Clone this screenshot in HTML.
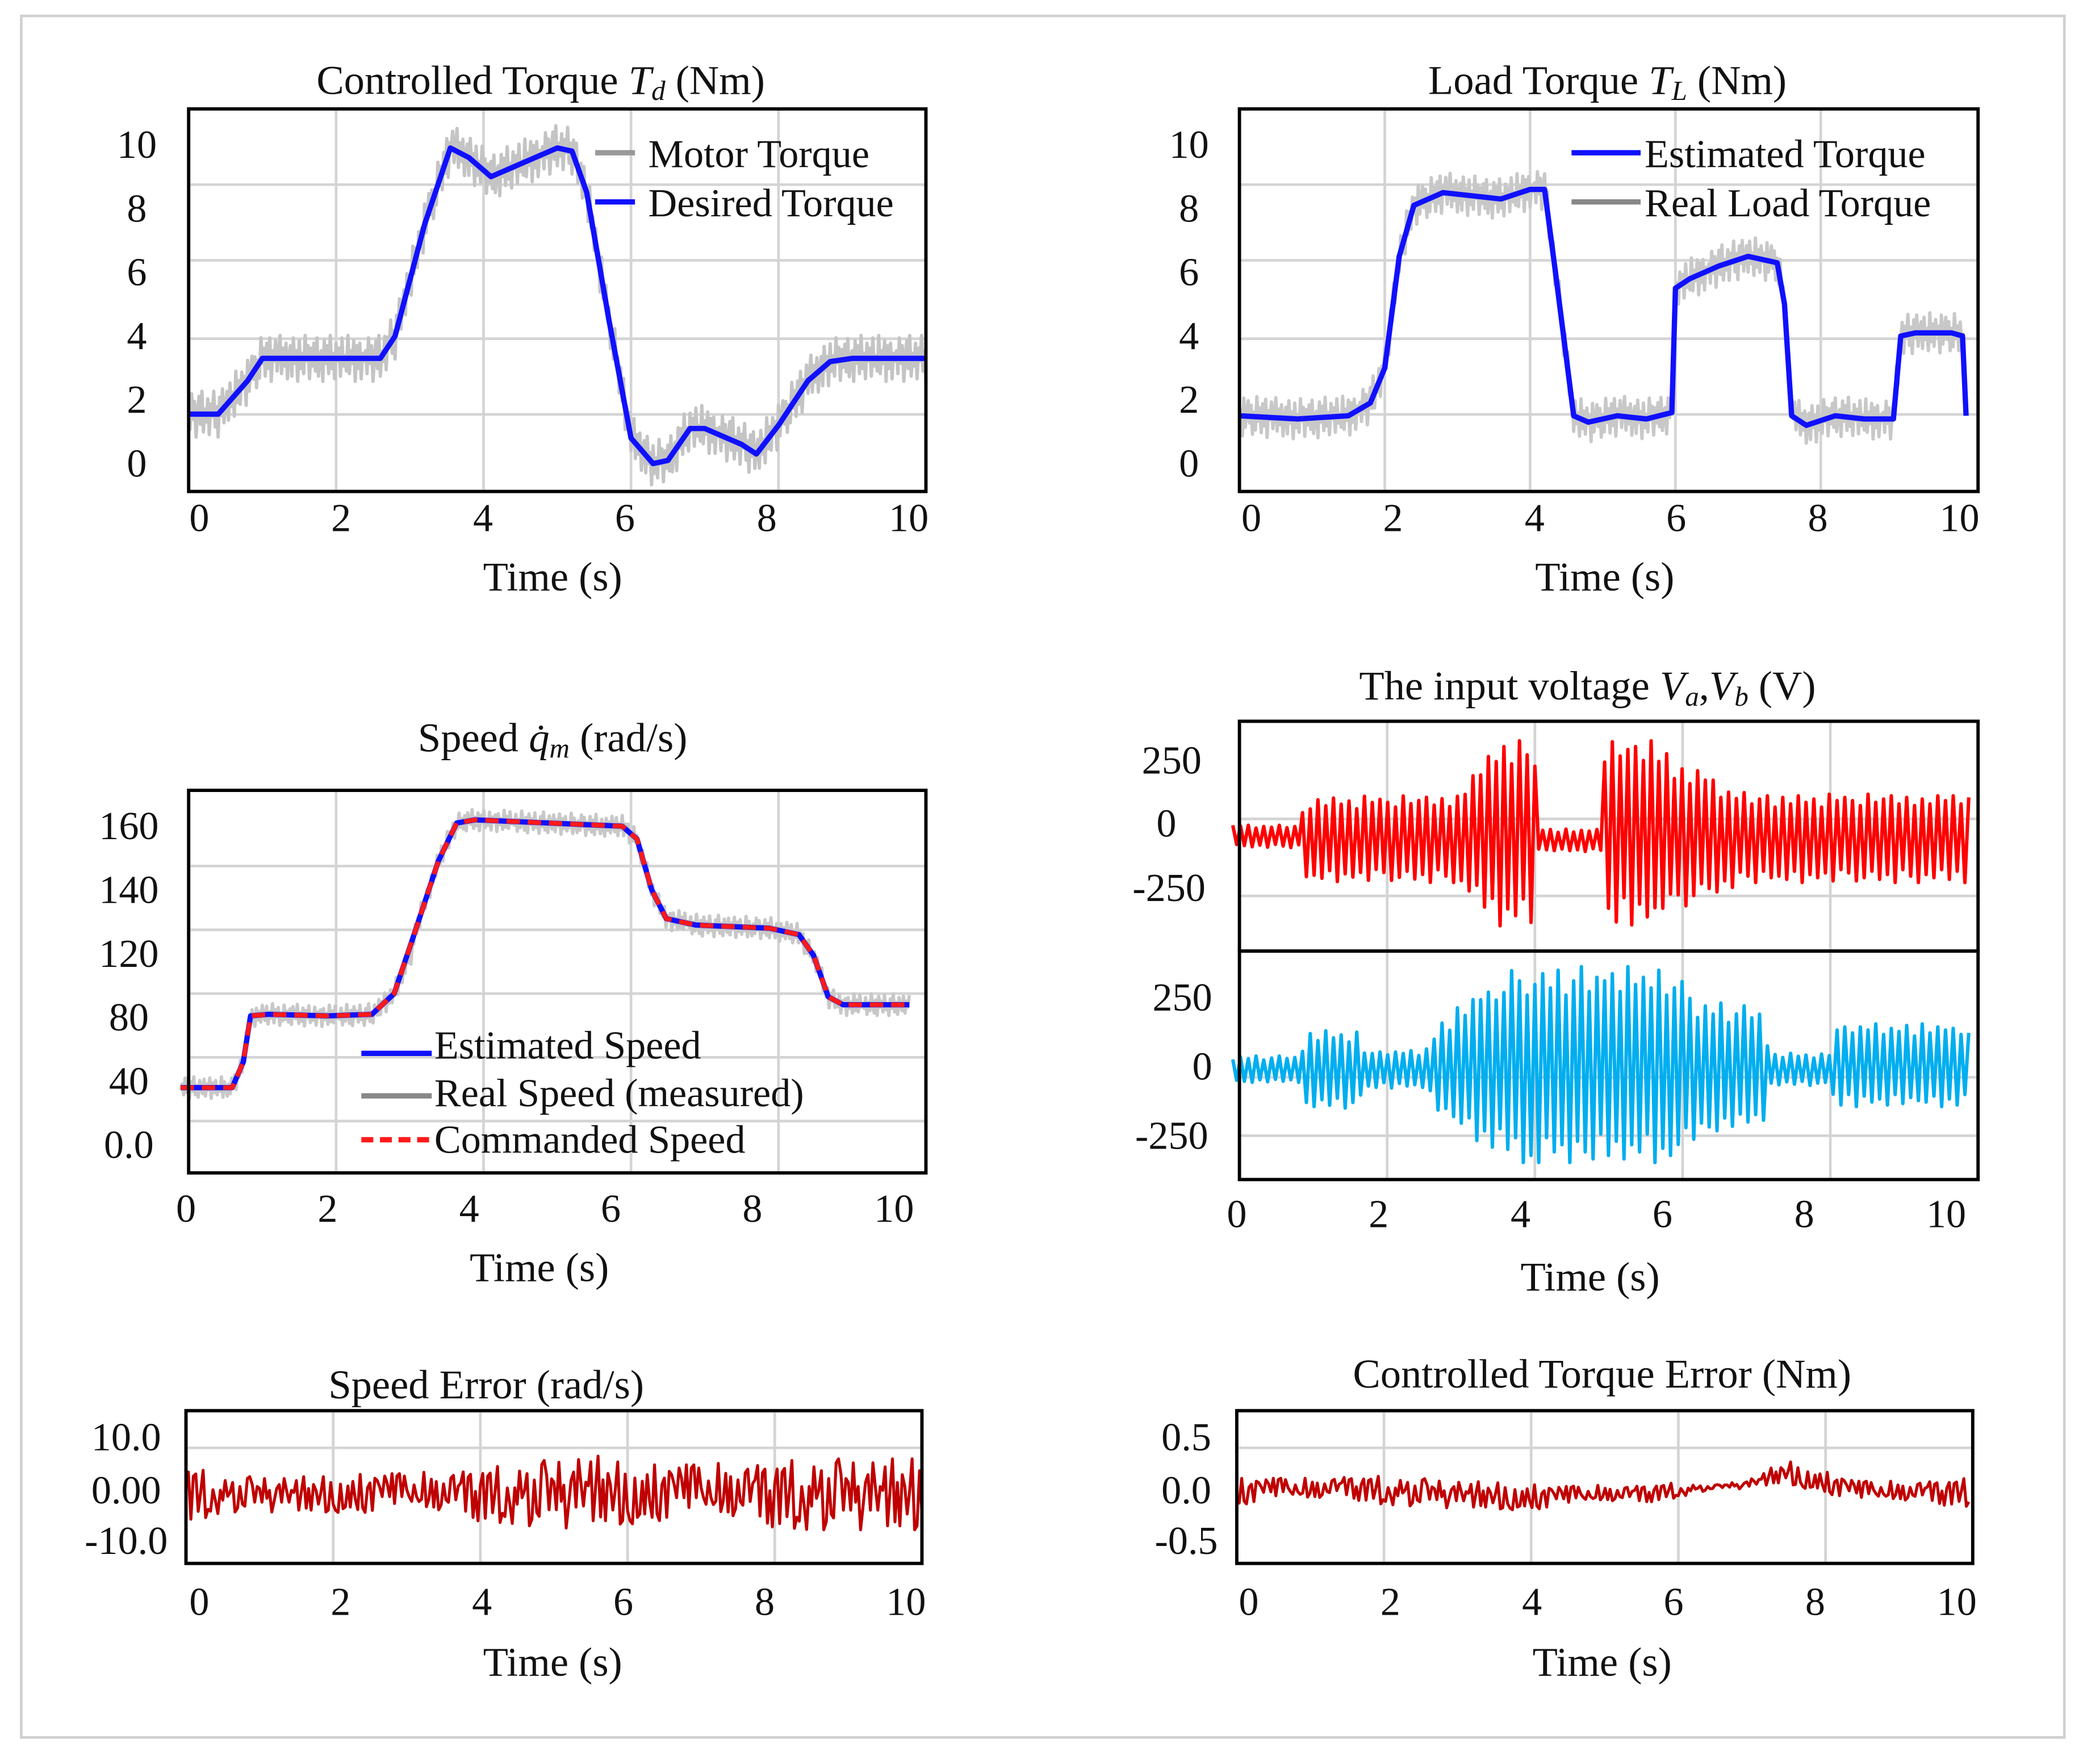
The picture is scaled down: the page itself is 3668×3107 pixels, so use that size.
<!DOCTYPE html>
<html><head><meta charset="utf-8"><style>
html,body{margin:0;padding:0;background:#fff;}
svg{display:block;}
text{font-family:"Liberation Serif",serif;fill:#111;}
</style></head><body>
<svg id="root" xmlns="http://www.w3.org/2000/svg" width="3668" height="3107" viewBox="0 0 1568 1328" preserveAspectRatio="none">
<rect x="16" y="12" width="1538" height="1296" fill="#fff" stroke="#d0d0d0" stroke-width="2"/>
<g id="g"></g>
</svg>
<script>
// ---------- data ----------
const noise=[0.3,-0.6,0.8,-0.2,0.5,-0.9,0.1,0.7,-0.4,0.9,-0.7,0.2,-0.3,0.6,-0.8,0.4,-0.1,0.9,-0.5,0.3,-0.9,0.6,-0.2,0.8,-0.6,0.1,0.5,-0.7,0.7,-0.3,0.2,-0.8,0.9,-0.4,0.4,-0.6,0.6,-0.1,0.3,-0.9,0.8,-0.5,0.1,0.7,-0.3,0.5,-0.8,0.2,-0.6,0.9,-0.2,0.4,-0.7,0.6,-0.4,0.8,-0.9,0.3,-0.1,0.7,-0.5,0.2,0.9,-0.6,0.4,-0.3,0.6,-0.8,0.1,0.5,-0.7,0.8,-0.2,0.3,-0.9,0.7,-0.4,0.2,-0.6,0.9,-0.1,0.5,-0.8,0.4,-0.3,0.6,-0.5,0.8,-0.7,0.1,0.3,-0.9,0.7,-0.2,0.5,-0.6,0.9,-0.4,0.2,-0.8,0.6,-0.1,0.4,-0.7,0.8,-0.3,0.1,-0.5,0.9,-0.6,0.3,-0.2,0.7,-0.9,0.5,-0.4,0.6,-0.8,0.2,-0.1];
const xTicks=[0,2,4,6,8,10];
const torqueTicks=[0,2,4,6,8,10];
const tdT=[0,0.4,0.8,1.0,1.5,2.0,2.6,2.8,3.2,3.55,3.8,4.1,4.5,5.0,5.2,5.4,5.7,6.0,6.3,6.5,6.8,7.0,7.5,7.7,8.0,8.4,8.7,9.0,10];
const tdV=[1.55,1.55,2.6,3.3,3.3,3.3,3.3,4.0,7.5,9.9,9.6,9.0,9.4,9.9,9.8,8.5,4.5,0.8,0.0,0.1,1.1,1.1,0.6,0.3,1.2,2.6,3.2,3.3,3.3];
const tlT=[0,0.8,1.5,1.8,2.0,2.2,2.4,2.8,3.2,3.6,4.0,4.2,4.35,4.6,4.8,5.2,5.6,5.95,6.0,6.2,6.6,7.0,7.4,7.5,7.6,7.8,8.2,8.6,9.0,9.1,9.3,9.8,9.95,10];
const tlV=[1.5,1.4,1.5,1.9,3.0,6.5,8.1,8.5,8.4,8.3,8.6,8.6,6.0,1.5,1.3,1.5,1.4,1.6,5.5,5.8,6.2,6.5,6.3,5.0,1.5,1.2,1.5,1.4,1.4,4.0,4.1,4.1,4.0,1.5];
const speedTicks=[0,40,80,120,140,160];
const speedTickLabels=["0.0","40","80","120","140","160"];
const spT=[0,0.7,0.85,0.95,1.2,2.0,2.6,2.9,3.2,3.5,3.75,4.0,5.0,6.0,6.2,6.4,6.6,7.0,8.0,8.4,8.6,8.8,9.0,9.5,9.9];
const spV=[36,36,52,81,82,81,82,95,128,149,161,162,161,160,156,140,131,129,128,126,119,93,88,88,88];
const voltTicks=[-250,0,250];
const vaT=[0,0.9,1.0,3.0,3.4,3.6,4.1,4.15,5.0,5.05,5.6,6.5,7.0,10];
const vaHi=[-5,-5,110,115,250,340,330,-20,-20,360,350,180,120,120];
const vaLo=[-95,-95,-230,-235,-350,-410,-410,-110,-110,-410,-405,-300,-235,-235];
const vbT=[0,0.9,1.0,1.7,1.8,2.6,2.8,3.3,3.8,6.0,6.3,7.2,7.3,8.1,8.2,10];
const vbHi=[40,40,135,135,60,60,160,280,375,375,250,220,50,50,160,160];
const vbLo=[-60,-60,-155,-155,-80,-80,-180,-275,-360,-360,-260,-225,-70,-70,-150,-150];
const seTicks=[-10,0,10];
const seTickLabels=["-10.0","0.00","10.0"];
const seMean=[0,0,0,0,0,0,0,0,0,0,0,1,0,0,0,0,0,0,0,0,0];
const seAmp=[5,3,3,3,3,3.5,3.5,4,4.5,5,6,6,5,5,5,5.5,5.5,6,6,6,6];
const teTicks=[-0.5,0,0.5];
const teTickLabels=["-0.5","0.0","0.5"];
const teMean=[0.1,0.12,0.12,0.15,0.12,0.1,0.08,0.07,0.05,0.05,0.08,0.08,0.12,0.15,0.18,0.3,0.2,0.1,0.1,0.1,0.1];
const teAmp=[0.15,0.13,0.13,0.12,0.15,0.15,0.15,0.14,0.14,0.12,0.1,0.1,0.08,0.02,0.05,0.12,0.12,0.12,0.12,0.13,0.15];

// ---------- helpers ----------
const NS="http://www.w3.org/2000/svg";
const G=document.getElementById('g');
function mk(tag,attrs,parent){const e=document.createElementNS(NS,tag);for(const k in attrs)e.setAttribute(k,attrs[k]);(parent||G).appendChild(e);return e;}
function interp(T,V,t){if(t<=T[0])return V[0];for(let i=1;i<T.length;i++){if(t<=T[i]){const f=(t-T[i-1])/(T[i]-T[i-1]);return V[i-1]+f*(V[i]-V[i-1]);}}return V[V.length-1];}
function pathD(pts){return pts.map((p,i)=>(i?'L':'M')+p[0].toFixed(1)+' '+p[1].toFixed(1)).join('');}
function linX(x0,x1){return t=>x0+(x1-x0)*t/10;}
function text(str,x,y,size,anchor,name){const e=mk('text',{x:x,y:y,'font-size':size,'text-anchor':anchor||'middle','dominant-baseline':'central'});e.textContent=str;return e;}
function box(x,y,w,h,name){const e=mk('rect',{x:x,y:y,width:w,height:h,fill:'none',stroke:'#000','stroke-width':2.5});}
function grid(xs,ys,x0,y0,x1,y1,name){const g=mk('g',{stroke:'#d4d4d4','stroke-width':2});xs.forEach(x=>mk('line',{x1:x,x2:x,y1:y0,y2:y1},g));ys.forEach(y=>mk('line',{x1:x0,x2:x1,y1:y,y2:y},g));}
function xAxisLabels(xf,y,labelX,name){xTicks.forEach(t=>{text(String(t),labelX(t),y,30,'middle',name+'-tick-'+t);});}
function series(pts,color,w,name,dash){const e=mk('path',{d:pathD(pts),fill:'none',stroke:color,'stroke-width':w,'stroke-linejoin':'round'});if(dash)e.setAttribute('stroke-dasharray',dash);return e;}
function title(parts,x,y,name){const e=mk('text',{x:x,y:y,'font-size':31,'text-anchor':'middle','dominant-baseline':'central'});parts.forEach(p=>{const s=mk('tspan',{},e);s.textContent=p[0];if(p[1]==='i')s.setAttribute('font-style','italic');if(p[1]==='sub'){s.setAttribute('font-style','italic');s.setAttribute('font-size',21);s.setAttribute('dy',8);}if(p[1]==='up')s.setAttribute('dy',-8);});}
function legendLine(x0,x1,y,color,name,dash){const e=mk('line',{x1:x0,x2:x1,y1:y,y2:y,stroke:color,'stroke-width':4});if(dash)e.setAttribute('stroke-dasharray',dash);}

// ---------- Panel 1: controlled torque ----------
{const x=linX(142,697),y=v=>349-24*v;
grid([2,4,6,8].map(x),[139,196,255,312],142,82,697,370,'torque-grid');
const gp=[];for(let i=0;i<=500;i++){const t=i*10/500;gp.push([x(t),y(interp(tdT,tdV,t)+0.8*noise[i%120])]);}
series(gp,'#c4c4c4',2.5,'motor-torque-line');
series(tdT.map((t,i)=>[x(t),y(tdV[i])]),'#1010ff',4,'desired-torque-line');
box(142,82,555,288,'torque-plot-area');
torqueTicks.forEach(v=>text(String(v),103,y(v),30,'middle','torque-y-tick-'+v));
xAxisLabels(x,390,t=>150+53.4*t,'torque-x');
text('Time (s)',416,434,31,'middle','torque-x-axis-title');
title([['Controlled Torque  '],['T','i'],['d','sub'],['  (Nm)','up']],407,60,'torque-title');
legendLine(448,478,115,'#999','legend-motor-torque-swatch');text('Motor Torque',488,116,30,'start','legend-motor-torque');
legendLine(448,478,152,'#1010ff','legend-desired-torque-swatch');text('Desired Torque',488,153,30,'start','legend-desired-torque');}

// ---------- Panel 2: load torque ----------
{const x=linX(933,1480),y=v=>349-24*v;
grid([2,4,6,8].map(x),[139,196,255,312],933,82,1489,370,'load-grid');
const gp=[];for(let i=0;i<=500;i++){const t=i*10/500;gp.push([x(t),y(interp(tlT,tlV,t)+0.7*noise[(i+37)%120])]);}
series(gp,'#c8c8c8',2.5,'real-load-torque-line');
series(tlT.map((t,i)=>[x(t),y(tlV[i])]),'#1010ff',4,'estimated-torque-line');
box(933,82,556,288,'load-plot-area');
torqueTicks.forEach(v=>text(String(v),895,y(v),30,'middle','load-y-tick-'+v));
xAxisLabels(x,390,t=>942+53.3*t,'load-x');
text('Time (s)',1208,434,31,'middle','load-x-axis-title');
title([['Load Torque  '],['T','i'],['L','sub'],['  (Nm)','up']],1210,60,'load-title');
legendLine(1183,1235,115,'#1010ff','legend-estimated-torque-swatch');text('Estimated Torque',1238,116,30,'start','legend-estimated-torque');
legendLine(1183,1235,152,'#888','legend-real-load-swatch');text('Real Load Torque',1238,153,30,'start','legend-real-load-torque');}

// ---------- Panel 3: speed ----------
{const x=linX(136,690);
const y=v=>{let i=0;while(i<speedTicks.length-2&&v>speedTicks[i+1])i++;const f=(v-speedTicks[i])/(speedTicks[i+1]-speedTicks[i]);return 862-48*(i+f);};
grid([2,4,6,8].map(t=>142+55.5*t),[652,700,748,796,844],142,595,697,883,'speed-grid');
const gp=[];for(let i=0;i<=500;i++){const t=i*9.9/500;gp.push([x(t),y(interp(spT,spV,t))+9*noise[(i+11)%120]]);}
series(gp,'#c8c8c8',2.5,'real-speed-line');
series(spT.map((t,i)=>[x(t),y(spV[i])]),'#1010ff',4,'estimated-speed-line');
series(spT.map((t,i)=>[x(t),y(spV[i])]),'#ff1a1a',3.5,'commanded-speed-line','10 6');
box(142,595,555,288,'speed-plot-area');
speedTicks.forEach((v,i)=>text(speedTickLabels[i],97,y(v),30,'middle','speed-y-tick-'+v));
xAxisLabels(x,910,t=>140+53.3*t,'speed-x');
text('Time (s)',406,954,31,'middle','speed-x-axis-title');
title([['Speed  '],['q̇','i'],['m','sub'],['  (rad/s)','up']],416,555,'speed-title');
legendLine(272,325,793,'#1010ff','legend-estimated-speed-swatch');text('Estimated Speed',327,787,30,'start','legend-estimated-speed');
legendLine(272,325,825,'#888','legend-real-speed-swatch');text('Real Speed (measured)',327,823,30,'start','legend-real-speed');
legendLine(272,325,858,'#ff1a1a','legend-commanded-speed-swatch','9 5');text('Commanded Speed',327,858,30,'start','legend-commanded-speed');}

// ---------- Panel 4: voltages ----------
{const x=linX(928,1482);
const ya=v=>620-0.194*v, yb=v=>803-0.208*v;
grid([2,4,6,8].map(t=>933+55.6*t),[],933,543,1489,888,'voltage-grid-v');
grid([],[ya(-250)+6,ya(250)+45,yb(250)+60,yb(-250)],933,543,1489,888,'voltage-grid-h');
function osc(T,H,L,yf,off){const p=[];const n=190;for(let k=0;k<=n;k++){const t=k*10/n;const hi=interp(T,H,t),lo=interp(T,L,t),mid=(hi+lo)/2,half=(hi-lo)/2;const s=(k%2?-1:1)*(0.65+0.35*Math.abs(noise[(k+off)%120]));p.push([x(t),yf(mid+half*s)]);}return p;}
series(osc(vaT,vaHi,vaLo,ya,5),'#ff0000',2.6,'va-voltage-line');
series(osc(vbT,vbHi,vbLo,yb,50),'#00aeef',2.6,'vb-voltage-line');
box(933,543,556,173,'va-plot-area');box(933,716,556,172,'vb-plot-area');
voltTicks.forEach(v=>text(String(v),v<0?880:(v===0?878:882),ya(v)-(v>0?-1:0),30,'middle','va-y-tick-'+v));
voltTicks.forEach(v=>text(String(v),v<0?882:(v===0?905:890),yb(v),30,'middle','vb-y-tick-'+v));
xAxisLabels(x,914,t=>931+53.4*t,'voltage-x');
text('Time (s)',1197,961,31,'middle','voltage-x-axis-title');
title([['The input voltage  '],['V','i'],['a','sub'],[',','up'],['V','i'],['b','sub'],['  (V)','up']],1195,516,'voltage-title');}

// ---------- Panel 5: speed error ----------
{const x=linX(140,694),y=v=>1125-3.8*v;
grid([2,4,6,8].map(t=>140+55.4*t),[1090],140,1062,694,1177,'speed-error-grid');
const TT=[...Array(21).keys()].map(j=>j/2);
const p=[];for(let k=0;k<=300;k++){const t=k*10/300;p.push([x(t),y(interp(TT,seMean,t)+interp(TT,seAmp,t)*noise[(k*7)%120]*1.3)]);}
series(p,'#c00000',2.2,'speed-error-line');
box(140,1062,554,115,'speed-error-plot-area');
seTicks.forEach((v,i)=>text(seTickLabels[i],95,[1160,1122,1082][i],30,'middle','speed-error-y-tick-'+i));
xAxisLabels(x,1206,t=>150+53.2*t,'speed-error-x');
text('Time (s)',416,1251,31,'middle','speed-error-x-axis-title');
title([['Speed Error (rad/s)']],366,1042,'speed-error-title');}

// ---------- Panel 6: torque error ----------
{const x=linX(931,1482),y=v=>1122-78*v;
grid([2,4,6,8].map(t=>931+55.4*t),[1090],931,1062,1485,1177,'torque-error-grid');
const TT=[...Array(21).keys()].map(j=>j/2);
const p=[];for(let k=0;k<=300;k++){const t=k*10/300;p.push([x(t),y(interp(TT,teMean,t)-0.12+interp(TT,teAmp,t)*noise[(k*7+3)%120])]);}
series(p,'#c00000',2.2,'torque-error-line');
box(931,1062,554,115,'torque-error-plot-area');
teTicks.forEach((v,i)=>text(teTickLabels[i],893,[1160,1122,1082][i],30,'middle','torque-error-y-tick-'+i));
xAxisLabels(x,1206,t=>940+53.3*t,'torque-error-x');
text('Time (s)',1206,1251,31,'middle','torque-error-x-axis-title');
title([['Controlled Torque Error (Nm)']],1206,1034,'torque-error-title');}
</script>
</body></html>
